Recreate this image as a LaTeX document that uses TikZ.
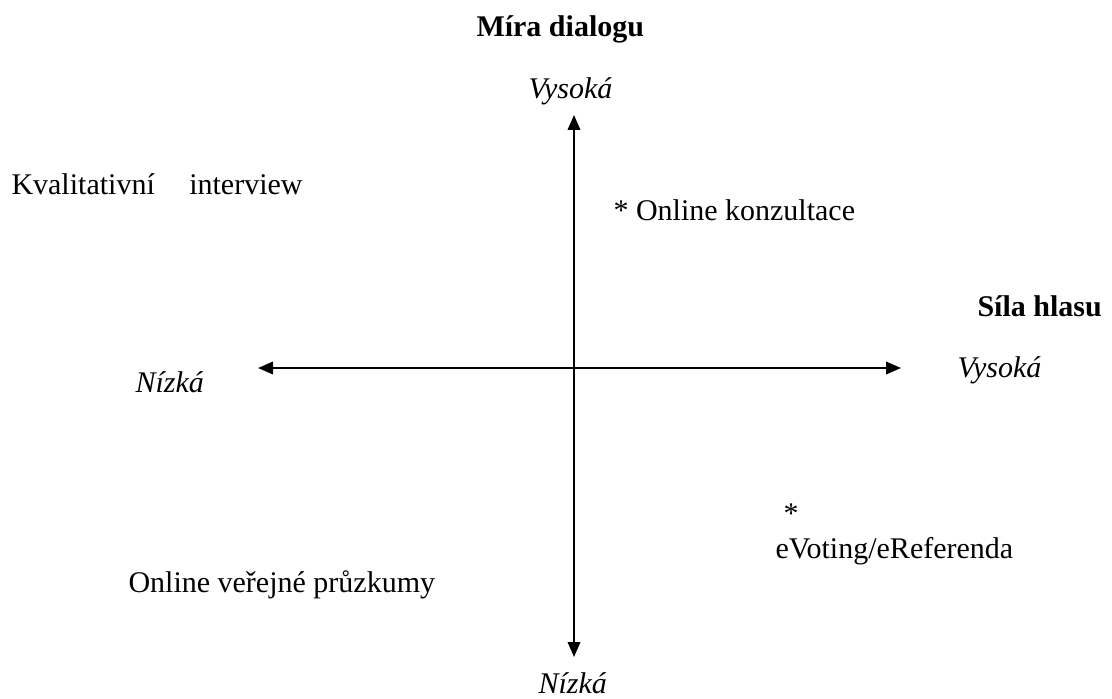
\documentclass[tikz,border=0pt]{standalone}
\usepackage{fontspec}
\setmainfont{Liberation Serif}
\usepackage{tikz}
\usetikzlibrary{arrows.meta}
\definecolor{ink}{HTML}{000000}
\tikzset{
  axis/.style={draw=ink, line width=0.8pt, {Triangle[length=6pt,width=5pt]}-{Triangle[length=6pt,width=5pt]}},
  lbl/.style={text=ink, font=\fontsize{12}{14}\selectfont, inner sep=0pt, anchor=base west},
  ilbl/.style={lbl, font=\fontsize{12}{14}\selectfont\itshape},
  blbl/.style={lbl, font=\fontsize{12}{14}\selectfont\bfseries}
}
\begin{document}
\begin{tikzpicture}[x=0.4pt, y=-0.4pt]
  \useasboundingbox (0,0) rectangle (1112,699);

  \coordinate (T) at (574,115);
  \coordinate (D) at (574,657);
  \coordinate (L) at (258,368);
  \coordinate (R) at (901,368);

  \draw[axis] (D)--(T);
  \draw[axis] (L)--(R);

  % axis titles
  \node[blbl] (mira) at (476,37) {Míra dialogu};
  \node[blbl] (sila) at (977,316) {Síla hlasu};

  % axis ends
  \node[ilbl] (vystop) at (528,99) {Vysoká};
  \node[ilbl] (vysright) at (957,377) {Vysoká};
  \node[ilbl] (nizleft) at (135,392) {Nízká};
  \node[ilbl] (nizbottom) at (538,693) {Nízká};

  % methods
  \node[lbl] (kval) at (11,195) {Kvalitativní \hspace{0.9em}interview};
  \node[lbl] (konz) at (613,220) {* Online konzultace};
  \node[lbl] (star) at (783,523) {*};
  \node[lbl] (evot) at (775,558) {eVoting/eReferenda};
  \node[lbl] (pruz) at (128,592) {Online veřejné průzkumy};
\end{tikzpicture}
\end{document}
